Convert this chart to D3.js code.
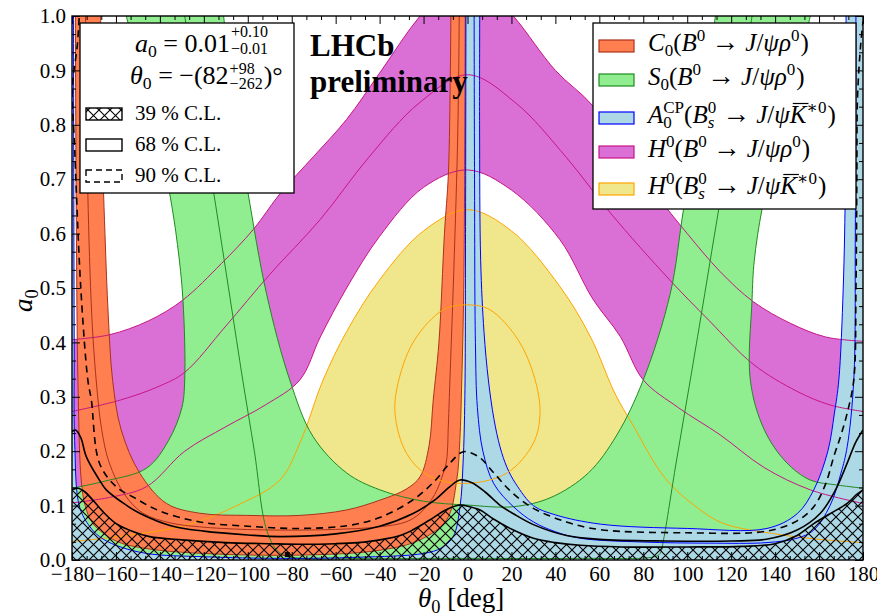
<!DOCTYPE html>
<html>
<head>
<meta charset="utf-8">
<script src="https://cdn.jsdelivr.net/npm/d3@7"></script>
<style>
body { margin: 0; background: #fff; }
svg text { font-family: 'Liberation Serif', 'DejaVu Serif', serif; fill: #000; }
</style>
</head>
<body>
<div id="chart"></div>
<script>
// tick values
const xTicks = d3.range(-180, 181, 20);
const yTicks = d3.range(0, 1.01, 0.1);

// H0(B0 -> J/psi rho0)   [theta0, a0]
const hRhoOuter = [[-180,0.405],[-163,0.414],[-145,0.44],[-129.5,0.478],[-112,0.545],[-97.6,0.607],[-85,0.675],[-70,0.742],[-55,0.81],[-40,0.895],[-21.6,1.0],[0,1.09],[20.9,1.0],[40,0.9],[57,0.835],[72,0.74],[87,0.665],[100,0.6],[115,0.53],[130,0.475],[147,0.435],[163,0.41],[180,0.402]];
const hRhoInner = [[-180,0.105],[-163,0.115],[-146,0.135],[-128.7,0.2],[-110,0.245],[-92,0.285],[-76.3,0.331],[-67,0.41],[-55,0.5],[-40,0.595],[-20,0.685],[0,0.717],[20,0.68],[42,0.589],[57,0.48],[69.5,0.411],[80,0.331],[96,0.28],[115,0.23],[135,0.17],[156,0.129],[180,0.104]];
const hRhoCenter = [[-180,0.273],[-158,0.294],[-140,0.32],[-128.7,0.345],[-110,0.43],[-90,0.525],[-67,0.626],[-45,0.74],[-22,0.84],[0,0.892],[22,0.84],[45,0.74],[65,0.638],[92,0.515],[110,0.44],[130,0.36],[150,0.31],[165,0.285],[180,0.273]];

// H0(Bs0 -> J/psi K*0)
const hKOuter = [[-180,0.034],[-155,0.045],[-128,0.064],[-105,0.1],[-85.4,0.147],[-76.3,0.215],[-65.7,0.331],[-55,0.42],[-40,0.515],[-20,0.605],[0,0.644],[20,0.605],[42,0.503],[56,0.41],[67,0.307],[75,0.25],[90,0.15],[105,0.095],[116.6,0.067],[140,0.048],[160,0.038],[180,0.032]];
const hKCenter = [[-33,0.27],[-31,0.335],[-24,0.405],[-11,0.46],[0,0.469],[10.2,0.46],[23,0.405],[30.5,0.335],[33,0.27],[30,0.215],[18,0.16],[0,0.141],[-17,0.153],[-27.7,0.196]];

// S0(B0 -> J/psi rho0)
const sLeftOuter = [[-180,0.132],[-165,0.145],[-146,0.169],[-136,0.22],[-130,0.28],[-128.7,0.331],[-129.5,0.478],[-132,0.58],[-135.6,0.675],[-142,0.8],[-150,0.92],[-158,1.04]];
const sInner = [[-112,1.04],[-111,1.0],[-105,0.8],[-99.9,0.675],[-91.5,0.49],[-80.9,0.331],[-70.3,0.227],[-55,0.16],[-39.9,0.129],[-20,0.108],[0,0.101],[20.9,0.098],[38,0.115],[55,0.16],[68,0.23],[80,0.331],[92.3,0.49],[98.3,0.644],[105,0.8],[112.8,1.0],[113.5,1.04]];
const sRightOuter = [[158,1.04],[156,1.0],[147,0.85],[140,0.75],[134,0.644],[130.5,0.55],[129.5,0.478],[128.7,0.331],[135,0.24],[145,0.18],[156,0.147],[168,0.138],[180,0.132]];
const sCenter = [[-130,1.04],[-128.7,1.0],[-122,0.84],[-115.5,0.675],[-108,0.48],[-102.3,0.331],[-97,0.2],[-91.4,0.055],[-86,0.015],[-80,0.005],[-40,0.003],[0,0.003],[50,0.003],[85,0.006],[87.7,0.012],[89.2,0.037],[95,0.18],[101.4,0.331],[108,0.49],[114.3,0.644],[121,0.8],[129.5,1.0],[130.5,1.04]];

// C0(B0 -> J/psi rho0)
const cOuter = [[-167.3,1.04],[-167,1.0],[-166.5,0.8],[-165,0.6],[-163.5,0.45],[-161.5,0.33],[-157.6,0.239],[-149.2,0.16],[-137,0.104],[-121.9,0.086],[-100,0.082],[-76.3,0.082],[-55,0.092],[-39.9,0.11],[-28,0.13],[-21.6,0.153],[-17.5,0.21],[-15.6,0.294],[-13,0.4],[-10.5,0.6],[-8.7,0.71],[-7.8,0.9],[-7.5,1.04]];
const cInner = [[-1,1.04],[-1.2,0.8],[-1.7,0.5],[-2.6,0.331],[-3.5,0.22],[-4.9,0.147],[-9.5,0.074],[-21.6,0.037],[-39.9,0.018],[-76.3,0.009],[-120,0.012],[-146,0.021],[-160,0.035],[-170.5,0.067],[-174,0.1],[-175.8,0.147],[-177.3,0.331],[-178,0.6],[-178.5,1.04]];
const cCenter = [[-174,1.04],[-173.5,0.9],[-172.8,0.675],[-171,0.45],[-169,0.331],[-166.5,0.24],[-163,0.178],[-156,0.12],[-147.7,0.086],[-135,0.068],[-122,0.061],[-100,0.056],[-76.3,0.055],[-55,0.057],[-39.9,0.061],[-28,0.07],[-21.6,0.086],[-15,0.12],[-11,0.16],[-9.5,0.184],[-8.7,0.25],[-8,0.331],[-6.5,0.5],[-4.6,0.754],[-4,0.9],[-3.7,1.04]];

// A0CP(Bs0 -> J/psi K*0)
const aLow = [[-179.3,1.04],[-179.2,0.7],[-179,0.4],[-178.8,0.22],[-176.6,0.098],[-172,0.062],[-167.5,0.043],[-160,0.027],[-146,0.012],[-120,0.006],[-84,0.003],[-50,0.005],[-20,0.012],[-12,0.022],[-6.5,0.043],[-3.4,0.098],[-2,0.18],[-1.2,0.3],[-0.9,0.6],[-0.7,1.04]];
const aUp = [[5.6,1.04],[5.5,0.8],[6,0.55],[7.5,0.42],[9.5,0.331],[12,0.26],[14.8,0.208],[18,0.17],[22,0.14],[30,0.1],[40,0.083],[60.4,0.066],[100,0.058],[136.3,0.058],[150,0.085],[157.6,0.129],[164,0.2],[167,0.27],[169,0.331],[171,0.5],[172,0.7],[172.3,1.04]];
const aCenter = [[3,1.04],[3.2,0.7],[3.6,0.4],[4.5,0.28],[7,0.2],[12,0.14],[20.9,0.098],[30,0.07],[40,0.052],[51.3,0.04],[80,0.033],[110,0.031],[136.3,0.032],[150,0.04],[157.6,0.055],[165,0.1],[170,0.16],[172.8,0.208],[175.8,0.331],[176.5,0.6],[176.8,1.04]];

// likelihood contours
const cl39 = [[-180,0.129],[-177.3,0.132],[-174,0.125],[-170.5,0.11],[-165,0.085],[-159.9,0.067],[-152,0.052],[-144.7,0.043],[-130,0.037],[-110,0.032],[-90,0.03],[-76.3,0.029],[-60,0.03],[-50,0.032],[-39.9,0.037],[-30,0.046],[-25,0.055],[-17,0.074],[-10,0.092],[-3.4,0.101],[0,0.099],[5.7,0.092],[12,0.075],[20.9,0.055],[30,0.04],[40,0.032],[51.3,0.027],[70,0.024],[100,0.024],[125,0.025],[140,0.03],[150,0.045],[157.6,0.067],[165,0.085],[172.8,0.104],[177,0.12],[180,0.129]];
const cl68 = [[-180,0.236],[-178.4,0.239],[-176,0.225],[-173.5,0.19],[-168,0.15],[-164.4,0.129],[-155,0.1],[-149.2,0.086],[-135,0.063],[-120,0.053],[-100,0.046],[-85,0.043],[-60,0.048],[-40,0.062],[-25,0.085],[-15,0.11],[-8,0.135],[-3.4,0.147],[2,0.142],[8,0.125],[15,0.1],[20.9,0.085],[30,0.065],[45,0.045],[60,0.038],[90,0.035],[120,0.035],[136,0.038],[150,0.055],[160.6,0.086],[167,0.125],[172.8,0.178],[176.5,0.215],[180,0.239]];
const cl90 = [[-176.2,1.04],[-177.5,0.95],[-179.8,0.868],[-178.8,0.76],[-178,0.675],[-176,0.5],[-172.8,0.331],[-171.2,0.294],[-167.5,0.178],[-160,0.135],[-152.3,0.116],[-140,0.09],[-121.9,0.07],[-100,0.062],[-76.3,0.058],[-55,0.063],[-40,0.078],[-25,0.11],[-15,0.145],[-8,0.178],[-1.9,0.199],[5,0.19],[12,0.16],[20,0.125],[30,0.095],[45,0.07],[60,0.056],[100,0.05],[136,0.053],[150,0.072],[157.6,0.098],[163,0.14],[166.7,0.19],[170,0.23],[172.8,0.27],[175.8,0.331],[176.8,0.5],[177.2,0.7],[177.5,0.85],[179,0.95],[180,0.99]];
const bestFit = [[-82, 0.01]];

const legendNames = ['C0', 'S0', 'A0CP', 'H0rho', 'H0K'];
const fills = ['#ff7f50', '#90ee90', '#add8e6', '#da70d6', '#f0e68c'];
const edges = ['#a8321c', '#1f8a1f', '#0000ff', '#c71585', '#ffa500'];
const clNames = ['39 % C.L.', '68 % C.L.', '90 % C.L.'];

const width = 877, height = 616;
const x = d3.scaleLinear().domain([-180, 180]).range([72, 863]);
const y = d3.scaleLinear().domain([0, 1]).range([560, 16]);

const svg = d3.select('#chart').append('svg')
    .attr('width', width).attr('height', height);

const defs = svg.append('defs');
defs.append('clipPath').attr('id', 'plotClip')
    .append('rect').attr('x', 72).attr('y', 16).attr('width', 791).attr('height', 544);
const pat = defs.append('pattern').attr('id', 'hatch')
    .attr('patternUnits', 'userSpaceOnUse').attr('width', 11).attr('height', 11);
pat.append('path').attr('d', 'M0,0L11,11M11,0L0,11M-1,10L1,12M10,-1L12,1')
    .attr('stroke', '#000').attr('stroke-width', 1.1);

const smooth = d3.line().x(d => x(d[0])).y(d => y(d[1])).curve(d3.curveCatmullRom.alpha(0.5));
const straight = d3.line().x(d => x(d[0])).y(d => y(d[1]));

function seg(pts, isSmooth) {
    if (pts.length === 1) return 'M' + x(pts[0][0]) + ',' + y(pts[0][1]);
    return (isSmooth ? smooth : straight)(pts).replace(/Z$/, '');
}
function pathOf(segs) {
    return segs.map((s, i) => {
        const d = seg(s[0], s[1]);
        return i ? d.replace(/^M/, 'L') : d;
    }).join('') + 'Z';
}

const plot = svg.append('g').attr('clip-path', 'url(#plotClip)');

// filled bands
plot.append('path')
    .attr('d', pathOf([[hRhoOuter, true], [hRhoInner.slice().reverse(), true]]))
    .attr('fill', fills[3]);
plot.append('path')
    .attr('d', pathOf([[[[-180, 0]]], [hKOuter, true], [[[180, 0]]]]))
    .attr('fill', fills[4]);
plot.append('path')
    .attr('d', pathOf([[[[-180, 0]]], [sLeftOuter, true], [sInner, true], [sRightOuter, true], [[[180, 0]]]]))
    .attr('fill', fills[1]);
plot.append('path')
    .attr('d', pathOf([[cOuter, true], [cInner, true]]))
    .attr('fill', fills[0]);
plot.append('path')
    .attr('d', pathOf([[[[-180, 1.04]]], [aLow, true], [aUp, true], [[[180, 1.04], [180, 0], [-180, 0]]]]))
    .attr('fill', fills[2]);

// band edges and central values
const lineSets = [
    [[hRhoOuter, hRhoInner, hRhoCenter], edges[3]],
    [[hKOuter], edges[4]],
    [[sLeftOuter, sInner, sRightOuter, sCenter], edges[1]],
    [[cOuter, cInner, cCenter], edges[0]],
    [[aLow, aUp, aCenter], edges[2]]
];
lineSets.forEach(([sets, col]) => {
    sets.forEach(pts => {
        plot.append('path').attr('d', smooth(pts))
            .attr('fill', 'none').attr('stroke', col).attr('stroke-width', 1);
    });
});
plot.append('path')
    .attr('d', d3.line().x(d => x(d[0])).y(d => y(d[1])).curve(d3.curveCatmullRomClosed.alpha(0.5))(hKCenter))
    .attr('fill', 'none').attr('stroke', edges[4]).attr('stroke-width', 1);

// confidence regions
plot.append('path')
    .attr('d', pathOf([[cl39, true], [[[180, 0], [-180, 0]]]]))
    .attr('fill', 'url(#hatch)');
plot.append('path').attr('d', smooth(cl39))
    .attr('fill', 'none').attr('stroke', '#000').attr('stroke-width', 1.6);
plot.append('path').attr('d', smooth(cl68))
    .attr('fill', 'none').attr('stroke', '#000').attr('stroke-width', 1.6);
plot.append('path').attr('d', smooth(cl90))
    .attr('fill', 'none').attr('stroke', '#000').attr('stroke-width', 1.6)
    .attr('stroke-dasharray', '7,5');

plot.selectAll('rect.best').data(bestFit).enter().append('rect')
    .attr('class', 'best')
    .attr('x', d => x(d[0]) - 2.5).attr('y', d => y(d[1]) - 2.5)
    .attr('width', 5).attr('height', 5).attr('fill', '#000');

// axes
const fmtX = d3.format('d');
const fmtY = d3.format('.1f');
const xMinor = d3.range(-180, 180.01, 20 / 3).filter(v => Math.abs(v / 20 - Math.round(v / 20)) > 0.01);
const yMinor = d3.range(0, 1.001, 0.1 / 3).filter(v => Math.abs(v * 10 - Math.round(v * 10)) > 0.01);

function styleAxis(g) {
    g.select('.domain').remove();
    g.selectAll('line').attr('stroke', '#000').attr('stroke-width', 1);
    g.selectAll('text').attr('font-family', null).attr('font-size', 21);
    g.attr('font-family', null).attr('font-size', null);
}
svg.append('g').attr('transform', 'translate(0,560)')
    .call(d3.axisBottom(x).tickValues(xTicks).tickSize(-8).tickPadding(6).tickFormat(fmtX)).call(styleAxis);
svg.append('g').attr('transform', 'translate(0,560)')
    .call(d3.axisBottom(x).tickValues(xMinor).tickSize(-4).tickFormat('')).call(styleAxis);
svg.append('g').attr('transform', 'translate(0,16)')
    .call(d3.axisTop(x).tickValues(xTicks).tickSize(-8).tickFormat('')).call(styleAxis);
svg.append('g').attr('transform', 'translate(0,16)')
    .call(d3.axisTop(x).tickValues(xMinor).tickSize(-4).tickFormat('')).call(styleAxis);
svg.append('g').attr('transform', 'translate(72,0)')
    .call(d3.axisLeft(y).tickValues(yTicks).tickSize(-8).tickPadding(6).tickFormat(fmtY)).call(styleAxis);
svg.append('g').attr('transform', 'translate(72,0)')
    .call(d3.axisLeft(y).tickValues(yMinor).tickSize(-4).tickFormat('')).call(styleAxis);
svg.append('g').attr('transform', 'translate(863,0)')
    .call(d3.axisRight(y).tickValues(yTicks).tickSize(-8).tickFormat('')).call(styleAxis);
svg.append('g').attr('transform', 'translate(863,0)')
    .call(d3.axisRight(y).tickValues(yMinor).tickSize(-4).tickFormat('')).call(styleAxis);

svg.append('rect').attr('x', 72).attr('y', 16).attr('width', 791).attr('height', 544)
    .attr('fill', 'none').attr('stroke', '#000').attr('stroke-width', 1.4);

// math text helper: parts laid out one after another
function mathText(g, x0, y0, parts, fs) {
    let cx = x0, stackW = 0;
    parts.forEach(p => {
        const size = p.v ? (p.fs || fs * 0.68) : (p.fs || fs);
        let dy = p.v === 'sup' ? -fs * 0.4 : p.v === 'sub' ? fs * 0.2 : 0;
        if (p.dy !== undefined) dy = p.dy;
        cx += p.pre || 0;
        const t = g.append('text')
            .attr('x', cx).attr('y', y0 + dy)
            .attr('font-size', size)
            .attr('font-style', p.it ? 'italic' : 'normal')
            .text(p.t.replace(/ /g, '\u00a0'));
        const w = t.node().getComputedTextLength();
        if (p.over) {
            g.append('line').attr('x1', cx + size * 0.12).attr('x2', cx + w + size * 0.08)
                .attr('y1', y0 - size * 0.78).attr('y2', y0 - size * 0.78)
                .attr('stroke', '#000').attr('stroke-width', 1.2);
        }
        if (p.stack) { stackW = Math.max(stackW, w); }
        else { cx += Math.max(w, stackW) + (p.pad || 0); stackW = 0; }
    });
    return cx;
}

// left legend
const legL = svg.append('g');
legL.append('rect').attr('x', 80).attr('y', 23).attr('width', 214).attr('height', 170)
    .attr('fill', '#fff').attr('stroke', '#000').attr('stroke-width', 1.3);
mathText(legL, 135, 52, [
    { t: 'a', it: 1 }, { t: '0', v: 'sub', dy: 5 }, { t: ' = 0.01' },
    { t: '+0.10', v: 'sup', stack: 1, fs: 16, dy: -15, pre: 1 }, { t: '−0.01', v: 'sub', fs: 16, dy: 2 }
], 26);
mathText(legL, 130, 84, [
    { t: 'θ', it: 1 }, { t: '0', v: 'sub', dy: 5 }, { t: ' = −(82' },
    { t: '+98', v: 'sup', stack: 1, fs: 16, dy: -10, pre: 1 }, { t: '−262', v: 'sub', fs: 16, dy: 5 },
    { t: ')°', pre: 1 }
], 26);
const clY = [108, 139, 170];
legL.append('rect').attr('x', 86).attr('y', clY[0]).attr('width', 36).attr('height', 12)
    .attr('fill', 'url(#hatch)').attr('stroke', '#000').attr('stroke-width', 1.4);
legL.append('rect').attr('x', 86).attr('y', clY[1]).attr('width', 36).attr('height', 12)
    .attr('fill', 'none').attr('stroke', '#000').attr('stroke-width', 1.4);
legL.append('rect').attr('x', 86).attr('y', clY[2]).attr('width', 36).attr('height', 12)
    .attr('fill', 'none').attr('stroke', '#000').attr('stroke-width', 1.4).attr('stroke-dasharray', '6,4');
clNames.forEach((n, i) => {
    legL.append('text').attr('x', 135).attr('y', clY[i] + 12).attr('font-size', 21).text(n);
});

// right legend
const legR = svg.append('g');
legR.append('rect').attr('x', 593).attr('y', 23).attr('width', 263).attr('height', 186)
    .attr('fill', '#fff').attr('stroke', '#000').attr('stroke-width', 1.3);
const rowY = [51, 85, 123, 157, 194];
const arrow = { t: '→', pre: 6, pad: 6, fs: 28 };
const rho = [{ t: '(' }, { t: 'B', it: 1 }, { t: '0', v: 'sup' }, arrow, { t: 'J', it: 1 }, { t: '/' }, { t: 'ψρ', it: 1 }, { t: '0', v: 'sup', pad: 1 }, { t: ')' }];
const kst = [{ t: '(' }, { t: 'B', it: 1 }, { t: '0', v: 'sup', stack: 1 }, { t: 's', it: 1, v: 'sub' }, arrow, { t: 'J', it: 1 }, { t: '/' }, { t: 'ψ', it: 1 }, { t: 'K', it: 1, over: 1 }, { t: '∗0', v: 'sup', pad: 1 }, { t: ')' }];
const legendParts = {
    C0: [{ t: 'C', it: 1 }, { t: '0', v: 'sub' }].concat(rho),
    S0: [{ t: 'S', it: 1 }, { t: '0', v: 'sub' }].concat(rho),
    A0CP: [{ t: 'A', it: 1 }, { t: 'CP', v: 'sup', stack: 1 }, { t: '0', v: 'sub' }].concat(kst),
    H0rho: [{ t: 'H', it: 1 }, { t: '0', v: 'sup' }].concat(rho),
    H0K: [{ t: 'H', it: 1 }, { t: '0', v: 'sup' }].concat(kst)
};
legendNames.forEach((n, i) => {
    legR.append('rect').attr('x', 599).attr('y', rowY[i] - 11).attr('width', 35).attr('height', 12)
        .attr('fill', fills[i]).attr('stroke', edges[i]).attr('stroke-width', 1.2);
    mathText(legR, 648, rowY[i], legendParts[n], 25);
});

// experiment label
svg.append('text').attr('x', 310).attr('y', 56).attr('font-size', 31).attr('font-weight', 'bold').text('LHCb');
svg.append('text').attr('x', 310).attr('y', 92).attr('font-size', 31).attr('font-weight', 'bold').text('preliminary');

// axis titles
const yl = svg.append('g').attr('transform', 'translate(32,300) rotate(-90)');
mathText(yl, -12, 0, [{ t: 'a', it: 1 }, { t: '0', v: 'sub', dy: 6 }], 27);
mathText(svg.append('g'), 418, 607, [{ t: 'θ', it: 1 }, { t: '0', v: 'sub', dy: 6 }, { t: ' [deg]' }], 27);
</script>
</body>
</html>
